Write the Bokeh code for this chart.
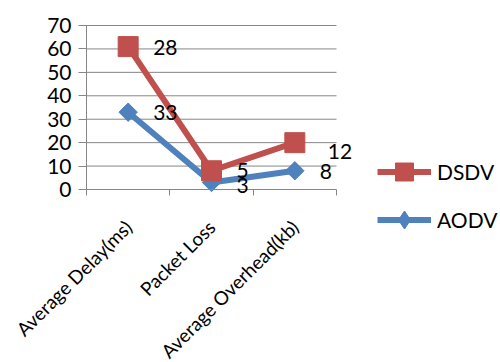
from math import pi

import numpy as np
from bokeh.core.properties import value
from bokeh.embed import file_html
from bokeh.models import (ColumnDataSource, FixedTicker, LabelSet, Legend,
                          LegendItem, Range1d)
from bokeh.plotting import figure
from bokeh.resources import INLINE

# --- data -------------------------------------------------------------
categories = ["Average Delay(ms)", "Packet Loss", "Average Overhead(kb)"]
aodv = [33, 3, 8]
dsdv = [28, 5, 12]
y_ticks = [0, 10, 20, 30, 40, 50, 60, 70]

# stacked line chart: DSDV sits on top of AODV
x = np.arange(len(categories))
aodv_top = np.array(aodv)
dsdv_top = aodv_top + np.array(dsdv)

RED = "#C0504D"
BLUE = "#4F81BD"
GRID = "#868686"
FONT = "Lato"

# --- geometry ---------------------------------------------------------
W, H = 500, 362
LEFT, TOP = 86, 25          # plot-area corner
PLOT_W, PLOT_H = 250, 164   # the category/value area itself
y_lo_v, y_hi_v = y_ticks[0], y_ticks[-1]
x_lo, x_hi = -0.5, len(categories) - 0.5

# The frame fills the whole canvas so that tick labels, data labels and
# the legend can sit outside the plot area; both axes are pinned to the
# plot-area edges with fixed_location.
px_x = (x_hi - x_lo) / PLOT_W
px_y = (y_hi_v - y_lo_v) / PLOT_H
x_start = x_lo - LEFT * px_x
x_end = x_lo + (W - LEFT) * px_x
y_end = y_hi_v + TOP * px_y
y_start = y_hi_v - (H - TOP) * px_y

p = figure(width=W, height=H, output_backend="svg", toolbar_location=None,
           x_range=Range1d(x_start, x_end),
           y_range=Range1d(y_start, y_end),
           min_border_left=0, min_border_right=0,
           min_border_top=0, min_border_bottom=0)
p.outline_line_color = None
p.background_fill_color = "white"
p.border_fill_color = "white"

# y axis at the left edge of the category area
p.yaxis.fixed_location = x_lo
p.yaxis.bounds = (y_lo_v, y_hi_v)
p.yaxis.ticker = FixedTicker(ticks=y_ticks)
p.yaxis.axis_line_color = GRID
p.yaxis.major_tick_line_color = GRID
p.yaxis.major_tick_out = 8
p.yaxis.major_tick_in = 0
p.yaxis.minor_tick_line_color = None
p.yaxis.major_label_standoff = 7
p.yaxis.major_label_text_font = FONT
p.yaxis.major_label_text_font_size = "21px"
p.yaxis.major_label_text_color = "black"

# horizontal grid lines over the category area only
p.xgrid.grid_line_color = None
p.ygrid.grid_line_color = None
p.segment(x0=x_lo, x1=x_hi, y0=y_ticks[1:], y1=y_ticks[1:],
          line_color=GRID, line_width=1, level="underlay")

# x axis at value 0: category names centred, tick marks on the boundaries
p.xaxis.fixed_location = y_lo_v
p.xaxis.bounds = (x_lo, x_hi)
p.xaxis.ticker = FixedTicker(ticks=list(x),
                             minor_ticks=list(np.arange(len(categories) + 1) - 0.5))
p.xaxis.major_label_overrides = {int(i): c for i, c in zip(x, categories)}
p.xaxis.axis_line_color = GRID
p.xaxis.major_tick_line_color = None
p.xaxis.minor_tick_line_color = GRID
p.xaxis.minor_tick_out = 6
p.xaxis.minor_tick_in = 0
p.xaxis.major_label_orientation = pi / 4
p.xaxis.major_label_standoff = 28
p.xaxis.major_label_text_font = FONT
p.xaxis.major_label_text_font_size = "19px"
p.xaxis.major_label_text_color = "black"

# series
a_line = p.line(x, aodv_top, line_color=BLUE, line_width=6)
a_mark = p.scatter(x, aodv_top, marker="square", angle=pi / 4, size=13,
                   fill_color=BLUE, line_color=BLUE)
d_line = p.line(x, dsdv_top, line_color=RED, line_width=6)
d_mark = p.scatter(x, dsdv_top, marker="square", size=20,
                   fill_color=RED, line_color=RED)

# diamond swatch for the AODV legend entry (legend markers are drawn
# unrotated, and sized from the legend box rather than the glyph)
a_key = p.scatter(x, aodv_top, marker="diamond", size=0,
                  fill_color=BLUE, line_color=BLUE)

# data labels showing each series' own value
lab = ColumnDataSource(dict(
    x=list(x) + list(x),
    y=list(aodv_top) + list(dsdv_top),
    text=[str(v) for v in aodv] + [str(v) for v in dsdv],
    dx=[25, 25, 25, 25, 25, 33],
    dy=[0, -3, -1, -1, 0, -9],
))
p.add_layout(LabelSet(x="x", y="y", text="text", source=lab,
                      x_offset="dx", y_offset="dy",
                      text_align="left", text_baseline="middle",
                      text_font=value(FONT), text_font_size="21px",
                      text_color="black"))

legend = Legend(items=[LegendItem(label="DSDV", renderers=[d_line, d_mark]),
                       LegendItem(label="AODV", renderers=[a_line, a_key])],
                location=(377, 120),
                glyph_width=54, glyph_height=45, spacing=3,
                label_standoff=6, padding=0, margin=0,
                label_text_font=FONT, label_text_font_size="21px",
                label_text_color="black",
                background_fill_alpha=0, border_line_color=None)
p.add_layout(legend, "center")

open("out.html", "w").write(file_html(p, INLINE))
